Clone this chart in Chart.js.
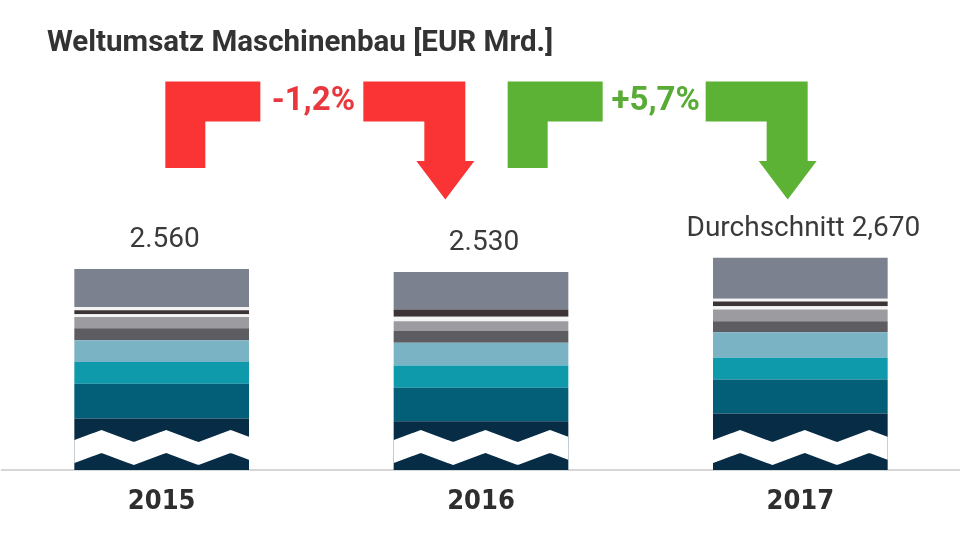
<!DOCTYPE html>
<html>
<head>
<meta charset="utf-8">
<script src="https://cdn.jsdelivr.net/npm/chart.js@4.4.1/dist/chart.umd.min.js"></script>
<style>
  html, body { margin: 0; padding: 0; background: #fff; }
</style>
</head>
<body>
<canvas id="chart" width="960" height="540"></canvas>
<script>
const years = ['2015', '2016', '2017'];
const valueLabels = ['2.560', '2.530', 'Durchschnitt 2,670'];
const changeLabels = ['-1,2%', '+5,7%'];
const title = 'Weltumsatz Maschinenbau [EUR Mrd.]';

// stacked layers, bottom to top (EUR Mrd.); axis is broken below the zigzag
const layerNavy      = [1105, 1080, 1155];
const layerDarkTeal  = [340, 325, 331];
const layerTeal      = [210, 217, 211];
const layerLightTeal = [211, 221, 249];
const layerDarkGray  = [117, 113, 107];
const layerLightGray = [110, 97, 114];
const layerGapLow    = [26, 43, 32];
const layerDarkLine  = [39, 71, 46];
const layerGapHigh   = [32, 0, 26];
const layerTop       = [370, 363, 399];

const axisMin = 605;
const axisMax = 5177;

const layers = [
  { data: layerNavy, color: '#072c46' },
  { data: layerDarkTeal, color: '#035e77' },
  { data: layerTeal, color: '#0f9aac' },
  { data: layerLightTeal, color: '#79b3c4' },
  { data: layerDarkGray, color: '#5d5d61' },
  { data: layerLightGray, color: '#9c9ca0' },
  { data: layerGapLow, color: '#f4f4f4' },
  { data: layerDarkLine, color: '#3b3335' },
  { data: layerGapHigh, color: '#f4f4f4' },
  { data: layerTop, color: '#7c8190' }
];

// white zigzag band that marks the broken axis
const zigzag = {
  id: 'zigzag',
  afterDatasetsDraw(chart) {
    const { ctx, chartArea } = chart;
    const base = chartArea.bottom;
    chart.getDatasetMeta(0).data.forEach(bar => {
      const left = bar.x - bar.width / 2, right = bar.x + bar.width / 2;
      const period = bar.width * 0.37, start = left + bar.width * 0.155;
      const wave = (x, peak, valley) => {
        let p = ((x - start) / period) % 1;
        if (p < 0) p += 1;
        const f = p < 0.5 ? p * 2 : (1 - p) * 2;
        return peak + (valley - peak) * f;
      };
      ctx.save();
      ctx.beginPath();
      ctx.rect(left, chartArea.top, bar.width, base - chartArea.top);
      ctx.clip();
      ctx.beginPath();
      for (let x = left - 1; x <= right + 1; x++) ctx.lineTo(x, wave(x, base - 40, base - 28));
      for (let x = right + 1; x >= left - 1; x--) ctx.lineTo(x, wave(x, base - 17, base - 5));
      ctx.closePath();
      ctx.fillStyle = '#fff';
      ctx.fill();
      ctx.restore();
    });
  }
};

function drawArrow(ctx, C, color) {
  const top = 81.5, t = 40, legBottom = 168, shaftBottom = 161, tip = 199.5;
  ctx.fillStyle = color;
  ctx.beginPath();
  ctx.moveTo(C - 150, top); ctx.lineTo(C - 55, top); ctx.lineTo(C - 55, top + t);
  ctx.lineTo(C - 110, top + t); ctx.lineTo(C - 110, legBottom); ctx.lineTo(C - 150, legBottom);
  ctx.closePath(); ctx.fill();
  ctx.beginPath();
  ctx.moveTo(C + 48, top); ctx.lineTo(C + 150, top); ctx.lineTo(C + 150, shaftBottom);
  ctx.lineTo(C + 159, shaftBottom); ctx.lineTo(C + 130, tip); ctx.lineTo(C + 101, shaftBottom);
  ctx.lineTo(C + 109, shaftBottom); ctx.lineTo(C + 109, top + t); ctx.lineTo(C + 48, top + t);
  ctx.closePath(); ctx.fill();
}

const annotations = {
  id: 'annotations',
  afterDraw(chart) {
    const { ctx } = chart;
    const xs = chart.scales.x;
    ctx.save();
    // title
    ctx.font = 'bold 29.5px Roboto';
    ctx.fillStyle = '#333';
    ctx.textAlign = 'left';
    ctx.textBaseline = 'alphabetic';
    ctx.fillText(title, 47, 51);

    // totals above bars
    const topBars = chart.getDatasetMeta(layers.length - 1).data;
    ctx.font = '28px Roboto';
    ctx.fillStyle = '#3a3a3a';
    ctx.textAlign = 'center';
    ctx.textBaseline = 'middle';
    topBars.forEach((bar, i) => ctx.fillText(valueLabels[i], bar.x + 3, bar.y - 29));

    // change arrows
    const shift = [-6, 17];
    changeLabels.forEach((lab, i) => {
      const C = (xs.getPixelForValue(i) + xs.getPixelForValue(i + 1)) / 2 + shift[i];
      const up = lab.startsWith('+');
      drawArrow(ctx, C, up ? '#5cb234' : '#fa3434');
      ctx.font = 'bold 33px Roboto';
      ctx.fillStyle = up ? '#58ab35' : '#e8383d';
      ctx.fillText(lab, C - 2, 102);
    });
    ctx.restore();
  }
};

new Chart(document.getElementById('chart'), {
  type: 'bar',
  data: {
    labels: years,
    datasets: layers.map(l => ({
      data: l.data,
      backgroundColor: l.color,
      borderWidth: 0,
      barPercentage: 0.547,
      categoryPercentage: 1
    }))
  },
  options: {
    responsive: false,
    animation: false,
    layout: { padding: { left: 2, right: 0, top: 0, bottom: 0 } },
    plugins: { legend: { display: false }, tooltip: { enabled: false } },
    scales: {
      x: {
        stacked: true,
        afterFit(scale) { scale.height = 70; },
        grid: { display: false, drawTicks: false },
        border: { color: '#d6d6d6', width: 2 },
        ticks: {
          padding: 16,
          color: '#2e2e2e',
          font: { family: "'DejaVu Sans Condensed', Roboto, sans-serif", size: 27, weight: 'bold' }
        }
      },
      y: { stacked: true, display: false, min: axisMin, max: axisMax }
    }
  },
  plugins: [zigzag, annotations]
});
</script>
</body>
</html>
